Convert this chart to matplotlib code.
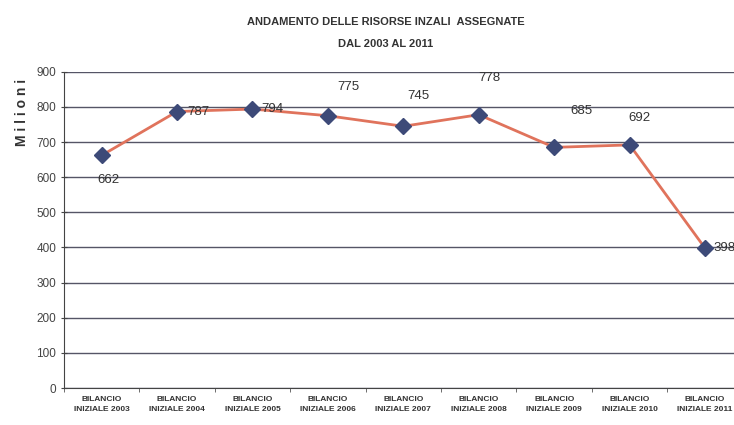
import numpy as np
import matplotlib.pyplot as plt

# dati
anni = ['2003', '2004', '2005', '2006', '2007', '2008', '2009', '2010', '2011']
valori = [662, 787, 794, 775, 745, 778, 685, 692, 398]
etichette = ['BILANCIO\nINIZIALE ' + a for a in anni]
# spostamento delle etichette dei valori (pixel)
offs = [(7, -25), (10, 0), (9, 0), (20, 29), (15, 30), (11, 37), (27, 36), (10, 27), (8, 0)]
allin = ['center', 'left', 'left', 'center', 'center', 'center', 'center', 'center', 'left']

plt.rcParams['font.family'] = ['Liberation Sans', 'DejaVu Sans']

fig = plt.figure(figsize=(7.34, 4.25), dpi=100)
ax = fig.add_axes([0.087, 0.087, 0.925, 0.744])

x = np.arange(len(valori))
ax.plot(x, valori, color='#e0735c', lw=2, zorder=3)
ax.plot(x, valori, ls='none', marker='D', ms=8, color='#3d4a78', zorder=4)

for i, v in enumerate(valori):
    ax.annotate(str(v), (x[i], v), xytext=offs[i], textcoords='offset pixels',
                ha=allin[i], va='center', fontsize=9.5, color='#333333', zorder=5)

ax.set_ylim(0, 900)
ax.set_yticks(range(0, 901, 100))
ax.set_xlim(-0.48, 8.4)
ax.set_xticks(x)
ax.set_xticklabels(etichette, fontsize=6, fontweight='bold', color='#333333', linespacing=1.6)
ax.set_xticks(np.arange(-0.5, 8.6, 1), minor=True)
ax.tick_params(axis='x', which='major', length=0, pad=6)
ax.tick_params(axis='x', which='minor', length=3, color='#555555')
ax.tick_params(axis='y', labelsize=8.5, labelcolor='#444444', length=4, direction='inout', color='#444444')
ax.grid(axis='y', color='#555566', lw=1)
ax.set_axisbelow(True)
for s in ['top', 'right']:
    ax.spines[s].set_visible(False)
ax.spines['left'].set_color('#444444')
ax.spines['bottom'].set_color('#444444')

ax.set_ylabel('M i l i o n i', fontsize=10, fontweight='bold', color='#333333')
ax.yaxis.set_label_coords(-0.052, 0.87)

fig.text(0.525, 0.948, 'ANDAMENTO DELLE RISORSE INZALI  ASSEGNATE', ha='center', va='center',
         fontsize=8, fontweight='bold', color='#333333')
fig.text(0.525, 0.897, 'DAL 2003 AL 2011', ha='center', va='center',
         fontsize=8, fontweight='bold', color='#333333')

fig.savefig('out.png', dpi=100)
